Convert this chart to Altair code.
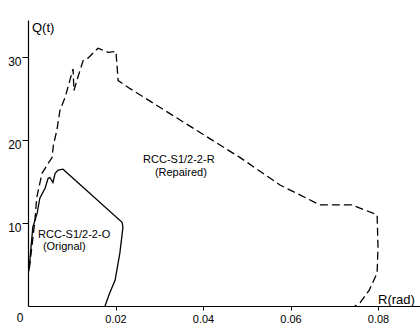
import altair as alt
import pandas as pd

# Repaired specimen (dashed)
rep_r = [0.0003, 0.0016, 0.0020, 0.0032, 0.0046, 0.0055, 0.0058, 0.0066, 0.0073, 0.0085,
         0.0103, 0.0105, 0.0114, 0.0126, 0.0137, 0.0160, 0.0183, 0.0201, 0.0206, 0.0231,
         0.0485, 0.0576, 0.0667, 0.0740, 0.0798, 0.0800, 0.0798, 0.0780, 0.0759, 0.0747]
rep_q = [4.5, 10.4, 13.1, 16.0, 17.2, 17.9, 19.4, 21.2, 23.6, 25.2,
         28.6, 26.0, 27.6, 29.6, 29.9, 31.1, 30.6, 30.7, 27.2, 26.3,
         17.9, 14.6, 12.2, 12.2, 11.0, 7.1, 4.0, 1.9, 0.4, 0.0]

# Original specimen (solid)
org_r = [0.0002, 0.0011, 0.0021, 0.0027, 0.0039, 0.0046, 0.0050, 0.0057, 0.0062, 0.0069,
         0.0080, 0.0215, 0.0217, 0.0210, 0.0199, 0.0187, 0.0176]
org_q = [4.2, 9.5, 11.2, 13.0, 14.2, 15.4, 15.5, 14.9, 16.0, 16.4,
         16.5, 10.1, 9.5, 6.4, 3.1, 1.6, 0.0]

x_ticks = [0.02, 0.04, 0.06, 0.08]
y_ticks = [10, 20, 30]

label_text = ["RCC-S1/2-2-O", "(Orignal)", "RCC-S1/2-2-R", "(Repaired)"]
label_r = [0.0023, 0.0034, 0.0263, 0.0290]
label_q = [8.55, 7.1, 17.6, 16.0]

df_rep = pd.DataFrame({"r": rep_r, "q": rep_q, "i": list(range(len(rep_r)))})
df_org = pd.DataFrame({"r": org_r, "q": org_q, "i": list(range(len(org_r)))})
df_lab = pd.DataFrame({"r": label_r, "q": label_q, "t": label_text})
df_q = pd.DataFrame({"r": [0.0009], "q": [33.5], "t": ["Q(t)"]})
df_rr = pd.DataFrame({"r": [0.0800], "q": [0.75], "t": ["R(rad)"]})
df_zero = pd.DataFrame({"r": [-0.0018], "q": [-1.45], "t": ["0"]})

FONT = "Liberation Sans"
xscale = alt.Scale(domain=[0, 0.0896], nice=False, zero=False)
yscale = alt.Scale(domain=[0, 34.5], nice=False, zero=False)

x_enc = alt.X("r:Q", scale=xscale,
              axis=alt.Axis(values=x_ticks, format=".2f", title=None, grid=False,
                            tickSize=4, labelFontSize=11, labelPadding=3,
                            labelFont=FONT, labelColor="black", domainColor="black",
                            tickColor="black", domainWidth=1.2))
y_enc = alt.Y("q:Q", scale=yscale,
              axis=alt.Axis(values=y_ticks, format="d", title=None, grid=False,
                            tickSize=6, labelFontSize=12, labelPadding=1,
                            labelOffset=4, labelFont=FONT, labelColor="black",
                            domainColor="black", tickColor="black", domainWidth=1.2))

rep = alt.Chart(df_rep).mark_line(color="black", strokeWidth=1.3, strokeDash=[8, 4]).encode(
    x=x_enc, y=y_enc, order="i:Q")
org = alt.Chart(df_org).mark_line(color="black", strokeWidth=1.3).encode(
    x=x_enc, y=y_enc, order="i:Q")
labs = alt.Chart(df_lab).mark_text(font=FONT, fontSize=11, align="left",
                                   baseline="middle", color="black").encode(
    x=x_enc, y=y_enc, text="t:N")
qlab = alt.Chart(df_q).mark_text(font=FONT, fontSize=13, align="left",
                                 baseline="middle", color="black").encode(
    x=x_enc, y=y_enc, text="t:N")
rlab = alt.Chart(df_rr).mark_text(font=FONT, fontSize=13, align="left",
                                  baseline="middle", color="black").encode(
    x=x_enc, y=y_enc, text="t:N")
zlab = alt.Chart(df_zero).mark_text(font=FONT, fontSize=12, align="center",
                                    baseline="middle", color="black", clip=False).encode(
    x=x_enc, y=y_enc, text="t:N")

chart = alt.layer(rep, org, labs, qlab, rlab, zlab).properties(
    width=392, height=286,
    autosize=alt.AutoSizeParams(type="none"),
    padding={"left": 28, "top": 20, "right": 0, "bottom": 21},
    background="white",
).configure_view(stroke=None)

chart.save("out.html", embed_options={"renderer": "svg", "actions": False})
